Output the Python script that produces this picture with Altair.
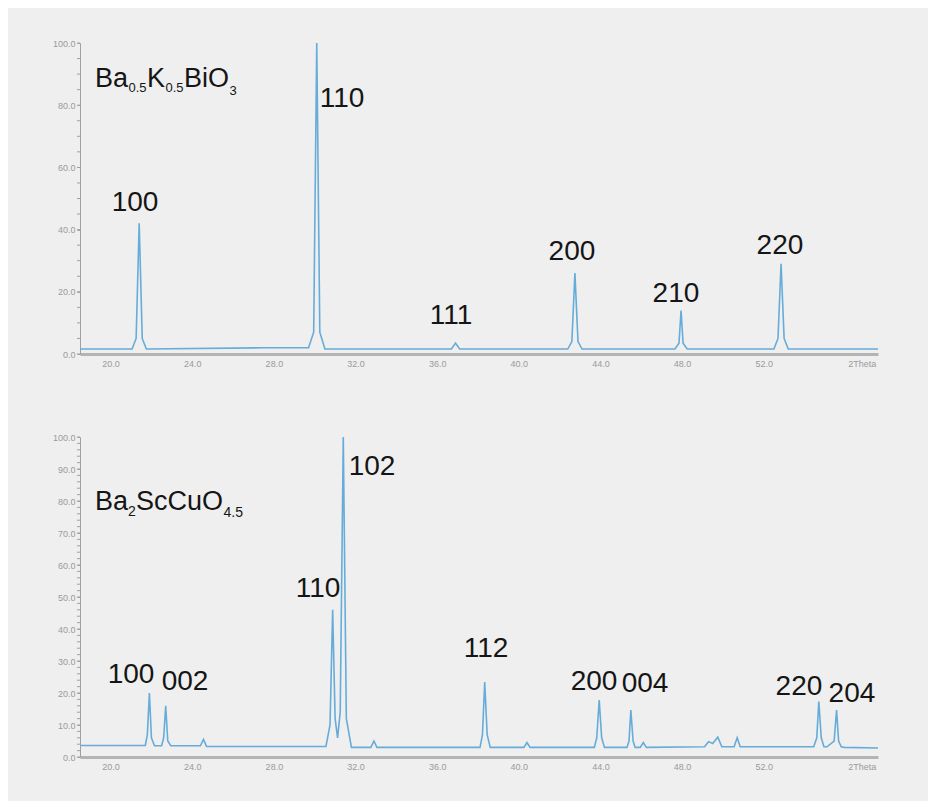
import altair as alt
import pandas as pd

# ---------------- data ----------------
# Top pattern: Ba0.5K0.5BiO3
top_x = [18.5, 21.05, 21.25, 21.4, 21.55, 21.75, 27.5, 29.7, 29.95, 30.1, 30.25, 30.5,
         36.7, 36.9, 37.1, 42.4, 42.6, 42.75, 42.9, 43.1, 47.65, 47.85, 47.95, 48.05, 48.25,
         52.5, 52.7, 52.85, 53.0, 53.2, 57.6]
top_y = [1.6, 1.6, 5, 42, 5, 1.6, 2.0, 2.0, 7, 100, 7, 1.6,
         1.6, 3.5, 1.6, 1.6, 4, 26, 4, 1.6, 1.6, 3.5, 14, 3.5, 1.6,
         1.6, 5, 29, 5, 1.6, 1.6]

# Bottom pattern: Ba2ScCuO4.5
bot_x = [18.5, 21.7, 21.8, 21.9, 22.0, 22.15, 22.5, 22.6, 22.7, 22.8, 22.95,
         24.4, 24.55, 24.7, 30.55, 30.75, 30.88, 31.0, 31.12, 31.25, 31.4, 31.55, 31.8,
         32.75, 32.9, 33.05, 38.1, 38.22, 38.33, 38.45, 38.6, 40.25, 40.4, 40.55,
         43.7, 43.82, 43.94, 44.06, 44.2, 45.3, 45.4, 45.49, 45.6, 45.7, 45.95, 46.1, 46.25,
         49.1, 49.3, 49.5, 49.75, 49.95, 50.55, 50.7, 50.85,
         54.45, 54.6, 54.7, 54.82, 54.95, 55.1, 55.45, 55.57, 55.67, 55.8, 55.95, 57.6]
bot_y = [3.6, 3.6, 7, 20, 6, 3.5, 3.5, 6, 16, 5, 3.5,
         3.5, 5.5, 3.3, 3.3, 10, 46, 12, 6, 14, 100, 12, 3.0,
         3.0, 5.0, 3.0, 3.0, 7, 23.4, 7, 3.0, 3.0, 4.5, 3.0,
         3.0, 6, 17.8, 6, 3.0, 3.0, 5, 14.7, 5, 3.0, 3.0, 4.5, 3.0,
         3.2, 4.8, 4.2, 6.2, 3.2, 3.2, 6.0, 3.2,
         3.2, 6, 17.3, 6, 3.2, 3.2, 5, 14.7, 5, 3.2, 3.0, 2.8]

top_labels = ["100", "110", "111", "200", "210", "220"]
top_label_x = [21.195, 31.337, 36.677, 42.605, 47.70, 52.797]
top_label_y = [46, 79.4, 9.6, 30.2, 16.7, 32.2]

bot_labels = ["100", "002", "110", "102", "112", "200", "004", "220", "204"]
bot_label_x = [20.999, 23.644, 30.161, 32.807, 38.392, 43.684, 46.183, 53.727, 56.324]
bot_label_y = [23.0, 20.9, 50.0, 88.1, 31.3, 20.9, 20.3, 19.4, 17.2]

top_formula = ["Ba", "0.5", "K", "0.5", "BiO", "3"]
top_formula_x = [19.235, 20.876, 21.783, 22.689, 23.596, 25.825]
top_formula_y = [85.9, 84.2, 85.9, 84.2, 85.9, 83.2]
top_formula_size = [27, 13, 27, 13, 27, 13]

bot_formula = ["Ba", "2", "ScCuO", "4.5"]
bot_formula_x = [19.235, 20.852, 21.244, 25.531]
bot_formula_y = [77.2, 75.2, 77.2, 75.0]
bot_formula_size = [27, 14, 27, 14]

x_tick_values = [20, 24, 28, 32, 36, 40, 44, 48, 52, 56.8]
top_y_labels = [0, 20, 40, 60, 80, 100]
top_y_minor = list(range(0, 101, 5))
bot_y_labels = [0, 10, 20, 30, 40, 50, 60, 70, 80, 90, 100]
bot_y_minor = list(range(0, 101, 2))

# ---------------- chart ----------------
LINE = "#67acd9"
FONT = "Liberation Sans"
XDOM = [18.5, 57.6]
AX = "#a0a0a0"

x_axis = alt.Axis(values=x_tick_values,
                  labelExpr="datum.value > 56 ? '2Theta' : format(datum.value, '.1f')",
                  title=None, ticks=False, domainWidth=3, domainColor="#b4b4b4",
                  labelColor="#9a9a9a", labelFontSize=9, labelPadding=5, grid=False,
                  labelFont="Liberation Sans", labelOverlap=False)


def panel(xs, ys, lx, ly, ltxt, fx, fy, ftxt, fsize, ylabels, yminor, h):
    line_df = pd.DataFrame({"x": xs, "y": ys})
    lab_df = pd.DataFrame({"x": lx, "y": ly, "t": ltxt})
    f_df = pd.DataFrame({"x": fx, "y": fy, "t": ftxt, "s": fsize})
    minor_df = pd.DataFrame({"y": yminor})
    y_axis = alt.Axis(values=ylabels, format=".1f",
                      title=None, tickSize=3, tickColor=AX, domainColor=AX,
                      labelColor="#9a9a9a", labelFontSize=9, labelPadding=2, grid=False,
                      labelFont="Liberation Sans", labelOverlap=False)
    xs_ = alt.Scale(domain=XDOM, nice=False, zero=False)
    ys_ = alt.Scale(domain=[0, 100], nice=False)
    X = alt.X("x:Q", scale=xs_, axis=x_axis)
    Y = alt.Y("y:Q", scale=ys_, axis=y_axis)
    line = alt.Chart(line_df).mark_line(color=LINE, strokeWidth=1.6, clip=True).encode(x=X, y=Y)
    minor = alt.Chart(minor_df).mark_rule(color=AX, strokeWidth=1).encode(
        x=alt.value(-3), x2=alt.value(0), y=Y)
    labs = alt.Chart(lab_df).mark_text(font=FONT, fontSize=28, color="#151515",
                                       align="center", baseline="alphabetic").encode(
        x=X, y=Y, text="t:N")
    form = alt.Chart(f_df).mark_text(font=FONT, color="#151515",
                                     align="left", baseline="alphabetic").encode(
        x=X, y=Y, text="t:N", size=alt.Size("s:Q", scale=None, legend=None))
    return alt.layer(line, minor, labs, form).properties(width=798, height=h)


top = panel(top_x, top_y, top_label_x, top_label_y, top_labels,
            top_formula_x, top_formula_y, top_formula, top_formula_size,
            top_y_labels, top_y_minor, 311)
bot = panel(bot_x, bot_y, bot_label_x, bot_label_y, bot_labels,
            bot_formula_x, bot_formula_y, bot_formula, bot_formula_size,
            bot_y_labels, bot_y_minor, 320)

chart = alt.vconcat(top, bot, spacing=65).properties(
    background="#efefef",
    padding={"left": 44, "top": 31, "right": 50, "bottom": 30},
).configure_view(stroke=None)

chart.save("out.html", embed_options={"renderer": "svg", "actions": False})
